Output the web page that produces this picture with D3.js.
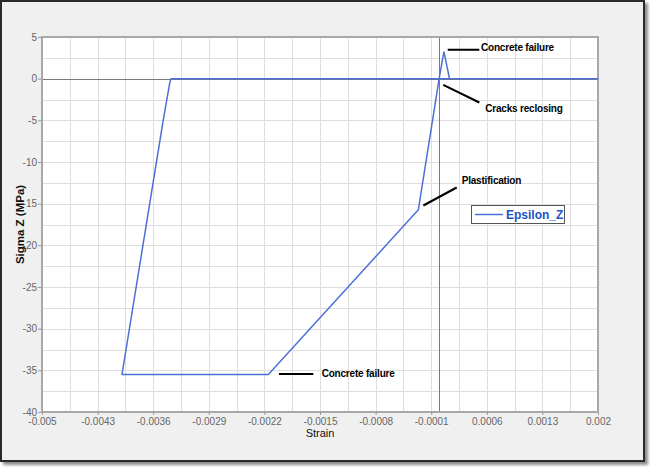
<!DOCTYPE html>
<html>
<head>
<meta charset="utf-8">
<script src="https://cdn.jsdelivr.net/npm/d3@7"></script>
<style>
  html, body { margin: 0; padding: 0; background: #ffffff; }
  svg { display: block; font-family: "Liberation Sans", Arial, sans-serif; }
</style>
</head>
<body>
<svg id="chart" width="651" height="468"></svg>
<script>
// ---- data ----
const seriesName = "Epsilon_Z";
const strain = [0, 0.00005, 0.00006, 0.00007, 0.00013, 0.002, 0, -0.000262, -0.00215, -0.003993, -0.003473, -0.003392, -0.003376, 0];
const stress = [0, 2.7, 3.2, 2.8, 0, 0, 0, -15.74, -35.5, -35.5, -4.94, -0.53, 0, 0];

const xTicks = [-0.005, -0.0043, -0.0036, -0.0029, -0.0022, -0.0015, -0.0008, -0.0001, 0.0006, 0.0013, 0.002];
const xTickLabels = ["-0.005", "-0.0043", "-0.0036", "-0.0029", "-0.0022", "-0.0015", "-0.0008", "-0.0001", "0.0006", "0.0013", "0.002"];
const yTicks = [5, 0, -5, -10, -15, -20, -25, -30, -35, -40];
const yTickLabels = ["5", "0", "-5", "-10", "-15", "-20", "-25", "-30", "-35", "-40"];

// annotations: label, line start (data), line end (data), text anchor (data)
const annLabels = ["Concrete failure", "Cracks reclosing", "Plastification", "Concrete failure"];
const annLine = [
  [0.000108, 3.46, 0.000506, 3.46],
  [0.000052, -0.74, 0.000506, -2.86],
  [-0.000199, -15.22, 0.000221, -13.06],
  [-0.002016, -35.45, -0.001584, -35.45]
];
const annText = [
  [0.000527, 3.70],
  [0.000581, -3.53],
  [0.000284, -12.26],
  [-0.001479, -35.4]
];

// ---- layout ----
const svg = d3.select("#chart");
const L = 42, R = 598, T = 37, B = 412;
const lineColor = "#4d70d8";

const defs = svg.append("defs");
const f = defs.append("filter").attr("id", "shadow").attr("x", "-5%").attr("y", "-5%").attr("width", "115%").attr("height", "115%");
f.append("feDropShadow").attr("dx", 3).attr("dy", 3).attr("stdDeviation", 1.5).attr("flood-color", "#000").attr("flood-opacity", 0.45);

// window frame
svg.append("rect").attr("x", 1).attr("y", 1).attr("width", 643).attr("height", 460)
  .attr("fill", "#f0f0f0").attr("stroke", "#2a2a2a").attr("stroke-width", 2)
  .attr("filter", "url(#shadow)");

const x = d3.scaleLinear().domain([-0.005, 0.002]).range([L, R]);
const y = d3.scaleLinear().domain([-40, 5]).range([B, T]);

// plot background
svg.append("rect").attr("x", L).attr("y", T).attr("width", R - L).attr("height", B - T).attr("fill", "#ffffff");

// grid (major + half-step minor)
const xGrid = [];
for (let i = 0; i < xTicks.length - 1; i++) { xGrid.push(xTicks[i]); xGrid.push((xTicks[i] + xTicks[i + 1]) / 2); }
const yGrid = [];
for (let i = 0; i < yTicks.length - 1; i++) { yGrid.push(yTicks[i]); yGrid.push((yTicks[i] + yTicks[i + 1]) / 2); }

const grid = svg.append("g").attr("stroke", "#dedede").attr("stroke-width", 1);
grid.selectAll("line.vx").data(xGrid).enter().append("line")
  .attr("x1", d => Math.round(x(d)) + 0.5).attr("x2", d => Math.round(x(d)) + 0.5)
  .attr("y1", T).attr("y2", B);
grid.selectAll("line.hy").data(yGrid).enter().append("line")
  .attr("y1", d => Math.round(y(d)) + 0.5).attr("y2", d => Math.round(y(d)) + 0.5)
  .attr("x1", L).attr("x2", R);

// zero lines
svg.append("line").attr("x1", L).attr("x2", R).attr("y1", Math.round(y(0)) + 0.5).attr("y2", Math.round(y(0)) + 0.5)
  .attr("stroke", "#7a7a7a").attr("stroke-width", 1);
svg.append("line").attr("x1", Math.round(x(0)) + 0.5).attr("x2", Math.round(x(0)) + 0.5).attr("y1", T).attr("y2", B)
  .attr("stroke", "#7a7a7a").attr("stroke-width", 1);

// plot frame
svg.append("rect").attr("x", L).attr("y", T).attr("width", R - L).attr("height", B - T)
  .attr("fill", "none").attr("stroke", "#a8a8a8").attr("stroke-width", 2);

// axes
const xAxis = d3.axisBottom(x).tickValues(xTicks).tickFormat((d, i) => xTickLabels[i]).tickSize(3).tickPadding(3);
const yAxis = d3.axisLeft(y).tickValues(yTicks).tickFormat((d, i) => yTickLabels[i]).tickSize(4).tickPadding(1);

const gx = svg.append("g").attr("transform", `translate(0,${B})`).call(xAxis);
const gy = svg.append("g").attr("transform", `translate(${L},0)`).call(yAxis);
[gx, gy].forEach(g => {
  g.select(".domain").remove();
  g.selectAll(".tick line").attr("stroke", "#999");
  g.selectAll(".tick text").attr("fill", "#666").attr("font-size", 10)
    .attr("font-family", "'Liberation Sans', Arial, sans-serif");
});

// axis titles
svg.append("text").attr("x", (L + R) / 2).attr("y", 437).attr("text-anchor", "middle")
  .attr("font-size", 11).attr("fill", "#111").text("Strain");
svg.append("text").attr("transform", `translate(24,${(T + B) / 2}) rotate(-90)`).attr("text-anchor", "middle")
  .attr("font-size", 11.5).attr("font-weight", "bold").attr("fill", "#111").text("Sigma Z (MPa)");

// curve
const pts = strain.map((s, i) => [s, stress[i]]);
const line = d3.line().x(d => x(d[0])).y(d => y(d[1]));
svg.append("path").datum(pts).attr("d", line)
  .attr("fill", "none").attr("stroke", lineColor).attr("stroke-width", 1.5).attr("stroke-linejoin", "round");

// annotations
const ann = svg.append("g");
annLabels.forEach((lab, i) => {
  const l = annLine[i];
  ann.append("line").attr("x1", x(l[0])).attr("y1", y(l[1])).attr("x2", x(l[2])).attr("y2", y(l[3]))
    .attr("stroke", "#000").attr("stroke-width", 2);
  ann.append("text").attr("x", x(annText[i][0])).attr("y", y(annText[i][1])).attr("dy", "0.35em")
    .attr("font-size", 10).attr("font-weight", "bold").attr("letter-spacing", -0.2)
    .attr("fill", "#000").text(lab);
});

// legend
const lg = svg.append("g");
lg.append("rect").attr("x", 471.5).attr("y", 205.5).attr("width", 93).attr("height", 18)
  .attr("fill", "#fff").attr("stroke", "#555").attr("stroke-width", 1);
lg.append("line").attr("x1", 475).attr("x2", 503).attr("y1", 214.5).attr("y2", 214.5)
  .attr("stroke", lineColor).attr("stroke-width", 1.5);
lg.append("text").attr("x", 506).attr("y", 214.5).attr("dy", "0.36em")
  .attr("font-size", 12).attr("font-weight", "bold").attr("fill", "#2152c8").text(seriesName);
</script>
</body>
</html>
